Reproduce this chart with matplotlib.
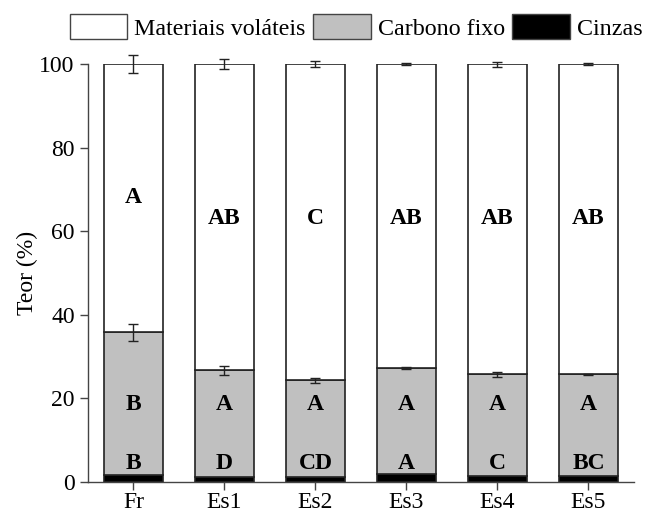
import numpy as np
import matplotlib.pyplot as plt
from matplotlib.patches import Patch

plt.rcParams['font.family'] = ['Liberation Serif', 'DejaVu Serif']

# Teor (%) de cinzas, carbono fixo e materiais voláteis
amostras = ['Fr', 'Es1', 'Es2', 'Es3', 'Es4', 'Es5']
cinzas = np.array([1.7, 1.2, 1.2, 1.9, 1.4, 1.5])
carbono = np.array([34.1, 25.5, 23.1, 25.3, 24.4, 24.3])
volateis = 100 - cinzas - carbono
erro_carbono = [2.0, 1.0, 0.7, 0.2, 0.6, 0.1]
erro_volateis = [2.1, 1.2, 0.7, 0.3, 0.6, 0.3]

# letras do teste de médias
letras_vol = ['A', 'AB', 'C', 'AB', 'AB', 'AB']
letras_carb = ['B', 'A', 'A', 'A', 'A', 'A']
letras_cinz = ['B', 'D', 'CD', 'A', 'C', 'BC']

x = np.arange(len(amostras))
larg = 0.65

fig = plt.figure(figsize=(6.46, 5.13), dpi=100)
ax = fig.add_axes([0.1362, 0.0604, 0.8452, 0.8148])

borda = dict(edgecolor='#222222', linewidth=1.2, width=larg)
ax.bar(x, cinzas, color='black', **borda)
ax.bar(x, carbono, bottom=cinzas, color='#c0c0c0', **borda)
ax.bar(x, volateis, bottom=cinzas + carbono, color='white', **borda)

ax.errorbar(x, cinzas + carbono, yerr=erro_carbono, fmt='none', ecolor='#222222',
            elinewidth=1, capsize=3.5, capthick=1, clip_on=False, zorder=5)
ax.errorbar(x, cinzas + carbono + volateis, yerr=erro_volateis, fmt='none', ecolor='#222222',
            elinewidth=1, capsize=3.5, capthick=1, clip_on=False, zorder=5)

for i in range(len(amostras)):
    topo_c = cinzas[i] + carbono[i]
    y_vol = 68 if i == 0 else 63
    ax.text(x[i], y_vol, letras_vol[i], ha='center', va='center',
            fontsize=17, fontweight='bold')
    ax.text(x[i], 18.5, letras_carb[i], ha='center', va='center',
            fontsize=17, fontweight='bold')
    ax.text(x[i], 4.5, letras_cinz[i], ha='center', va='center',
            fontsize=17, fontweight='bold')

ax.set_xlim(-0.5, 5.5)
ax.set_ylim(0, 100)
ax.set_xticks(x)
ax.set_xticklabels(amostras)
ax.set_yticks([0, 20, 40, 60, 80, 100])
ax.tick_params(labelsize=17, length=6, width=1, color='#444444')
ax.tick_params(axis='x', pad=1)
ax.spines['top'].set_visible(False)
ax.spines['right'].set_visible(False)
for s in ['left', 'bottom']:
    ax.spines[s].set_color('#444444')
    ax.spines[s].set_linewidth(1)
ax.set_ylabel('Teor (%)', fontsize=17, labelpad=1)

handles = [Patch(facecolor='white', edgecolor='#444444', linewidth=1),
           Patch(facecolor='#c0c0c0', edgecolor='#444444', linewidth=1),
           Patch(facecolor='black', edgecolor='#444444', linewidth=1)]
fig.legend(handles, ['Materiais voláteis', 'Carbono fixo', 'Cinzas'],
           loc='center right', bbox_to_anchor=(0.995, 0.948), ncol=3, frameon=False,
           fontsize=17.3, handlelength=2.4, handleheight=1.25, handletextpad=0.3,
           columnspacing=0.3, borderaxespad=0, borderpad=0)

fig.savefig('out.png', dpi=100)
